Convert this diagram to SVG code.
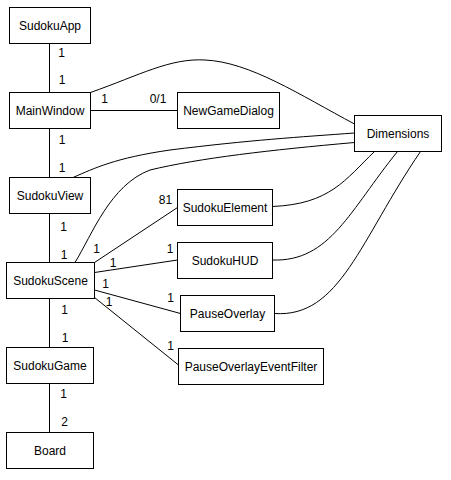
<svg xmlns="http://www.w3.org/2000/svg" width="451" height="480" viewBox="0 0 451 480">
<style>
.n rect{fill:#fff;stroke:#000;stroke-width:1}
.n text{font-family:"Liberation Sans",Arial,sans-serif;font-size:12px;text-anchor:middle;fill:#000}
.c path,.c line{fill:none;stroke:#000;stroke-width:1}
.c text{font-family:"Liberation Sans",Arial,sans-serif;font-size:12px;text-anchor:middle;fill:#000}
</style>
<rect width="451" height="480" fill="#fff"/>
<g class="c" id="connectors">
<line x1="49.5" y1="43.5" x2="49.5" y2="92.5"/>
<line x1="90.5" y1="110.5" x2="177.5" y2="110.5"/>
<line x1="49.5" y1="128.5" x2="49.5" y2="177.5"/>
<line x1="49.5" y1="213.5" x2="49.5" y2="262.5"/>
<line x1="49.5" y1="298.5" x2="49.5" y2="347.5"/>
<line x1="49.5" y1="383.5" x2="49.5" y2="432.5"/>
<line x1="94.5" y1="262.5" x2="177.5" y2="207.5"/>
<line x1="94.5" y1="272.5" x2="177.5" y2="260"/>
<line x1="94.5" y1="290" x2="180.5" y2="313.5"/>
<line x1="94.5" y1="297.5" x2="178.5" y2="365"/>
<path d="M90.5,92.5 C140,75 170,58 205,60 C250,62 300,95 354.5,124"/>
<path d="M73,177.5 C95,168 115,158 170,150 C250,140 300,137 354.5,133"/>
<path d="M75,262.5 C92,235 110,185 150,170 C200,158 270,150 354.5,142.5"/>
<path d="M272.5,206.5 C330,204 345,180 374.5,151.5"/>
<path d="M272.5,260 C330,262 350,210 397.5,151.5"/>
<path d="M274.5,313.5 C340,318 360,240 420.5,151.5"/>
<text x="61.5" y="57">1</text>
<text x="62" y="83.5">1</text>
<text x="104.5" y="102.5">1</text>
<text x="158" y="102.5">0/1</text>
<text x="62" y="143.5">1</text>
<text x="62" y="171.5">1</text>
<text x="63.5" y="231">1</text>
<text x="64" y="258.5">1</text>
<text x="64.5" y="313.5">1</text>
<text x="65" y="342">1</text>
<text x="63.5" y="397.5">1</text>
<text x="64.5" y="426">2</text>
<text x="96.5" y="253">1</text>
<text x="165.5" y="204">81</text>
<text x="113" y="266.5">1</text>
<text x="170" y="253">1</text>
<text x="105.5" y="287.5">1</text>
<text x="170.5" y="301.5">1</text>
<text x="109" y="305.5">1</text>
<text x="170.5" y="350">1</text>
</g>
<g class="n" id="SudokuApp"><rect x="9.5" y="7.5" width="81" height="36"/><text x="50" y="29.5">SudokuApp</text></g>
<g class="n" id="MainWindow"><rect x="9.5" y="92.5" width="81" height="36"/><text x="50" y="114.5">MainWindow</text></g>
<g class="n" id="NewGameDialog"><rect x="177.5" y="92.5" width="102" height="36"/><text x="228.5" y="114.5">NewGameDialog</text></g>
<g class="n" id="SudokuView"><rect x="9.5" y="177.5" width="81" height="36"/><text x="50" y="199.5">SudokuView</text></g>
<g class="n" id="SudokuScene"><rect x="6.5" y="262.5" width="88" height="36"/><text x="50.5" y="284.5">SudokuScene</text></g>
<g class="n" id="SudokuGame"><rect x="6.5" y="347.5" width="87" height="36"/><text x="50" y="369.5">SudokuGame</text></g>
<g class="n" id="Board"><rect x="6.5" y="432.5" width="87" height="36"/><text x="50" y="454.5">Board</text></g>
<g class="n" id="SudokuElement"><rect x="177.5" y="189.5" width="95" height="36"/><text x="225" y="211.5">SudokuElement</text></g>
<g class="n" id="SudokuHUD"><rect x="177.5" y="242.5" width="95" height="36"/><text x="225" y="264.5">SudokuHUD</text></g>
<g class="n" id="PauseOverlay"><rect x="180.5" y="295.5" width="94" height="36"/><text x="227.5" y="317.5">PauseOverlay</text></g>
<g class="n" id="PauseOverlayEventFilter"><rect x="178.5" y="348.5" width="145" height="36"/><text x="251" y="370.5">PauseOverlayEventFilter</text></g>
<g class="n" id="Dimensions"><rect x="354.5" y="115.5" width="87" height="36"/><text x="398" y="137.5">Dimensions</text></g>
</svg>
